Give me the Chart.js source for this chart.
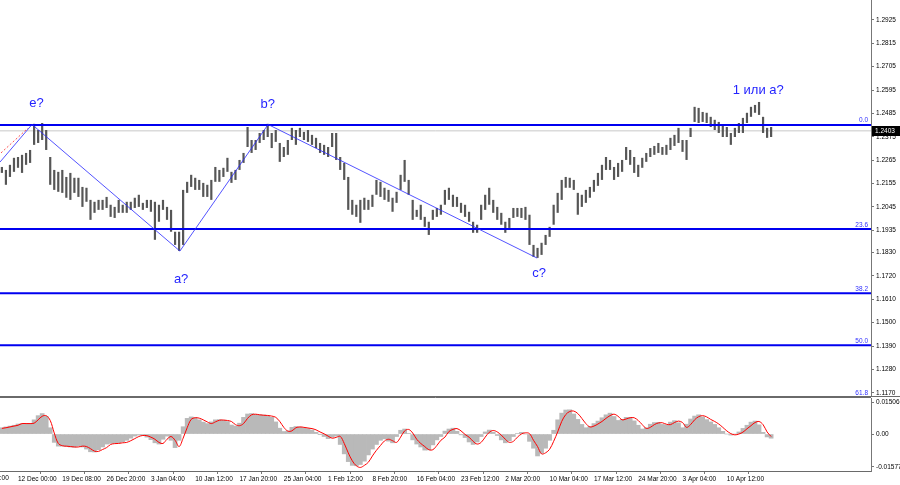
<!DOCTYPE html>
<html lang="ru">
<head>
<meta charset="UTF-8">
<title>GBPUSD H4</title>
<script src="https://cdn.jsdelivr.net/npm/chart.js"></script>
<style>
  html, body { margin: 0; padding: 0; background: #fff; }
  #wrap { position: relative; width: 900px; height: 485px; overflow: hidden; }
  #chartPrice { position: absolute; left: 0; top: 0; }
  #chartOsc { position: absolute; left: 0; top: 397px; }
</style>
</head>
<body>
<div id="wrap">
  <canvas id="chartPrice" width="900" height="397"></canvas>
  <canvas id="chartOsc" width="900" height="88"></canvas>
</div>
<script>
// price bars (high / low), one per bar
const barHigh = [
  1.2233,1.2219,1.2243,1.2276,1.2280,1.2290,1.2299,1.2313,1.2436,1.2407,
  1.2440,1.2407,1.2280,1.2219,1.2210,1.2219,1.2186,1.2205,1.2182,1.2182,
  1.2139,1.2135,1.2078,1.2069,1.2078,1.2078,1.2092,1.2055,1.2045,1.2078,
  1.2055,1.2069,1.2069,1.2088,1.2102,1.2064,1.2078,1.2078,1.2069,1.2055,
  1.2078,1.2045,1.2031,1.1928,1.1928,1.2125,1.2163,1.2196,1.2182,1.2172,
  1.2158,1.2149,1.2172,1.2233,1.2219,1.2229,1.2276,1.2210,1.2219,1.2266,
  1.2299,1.2421,1.2360,1.2360,1.2393,1.2407,1.2436,1.2393,1.2407,1.2346,
  1.2327,1.2360,1.2417,1.2407,1.2417,1.2398,1.2407,1.2384,1.2370,1.2346,
  1.2337,1.2327,1.2393,1.2393,1.2280,1.2252,1.2186,1.2078,1.2055,1.2078,
  1.2088,1.2078,1.2102,1.2172,1.2163,1.2135,1.2125,1.2088,1.2116,1.2196,
  1.2266,1.2172,1.2078,1.2031,1.2055,1.1998,1.1975,1.2031,1.2040,1.2055,
  1.2125,1.2135,1.2102,1.2092,1.2064,1.2055,1.2022,1.1975,1.1961,1.2055,
  1.2102,1.2135,1.2078,1.2045,1.2017,1.1975,1.1993,1.2040,1.2040,1.2040,
  1.2045,1.2008,1.1866,1.1852,1.1876,1.1913,1.1951,1.2055,1.2111,1.2172,
  1.2186,1.2182,1.2172,1.2111,1.2102,1.2125,1.2139,1.2172,1.2205,1.2243,
  1.2280,1.2266,1.2233,1.2252,1.2266,1.2327,1.2313,1.2280,1.2243,1.2276,
  1.2299,1.2322,1.2332,1.2346,1.2327,1.2337,1.2370,1.2384,1.2417,1.2360,
  1.2360,1.2417,1.2516,1.2511,1.2492,1.2488,1.2469,1.2455,1.2445,1.2431,
  1.2421,1.2393,1.2417,1.2440,1.2464,1.2488,1.2516,1.2525,1.2539,1.2469,
  1.2417,1.2421
];
const barLow = [
  1.2205,1.2149,1.2186,1.2210,1.2229,1.2205,1.2243,1.2252,1.2337,1.2346,
  1.2360,1.2313,1.2149,1.2125,1.2116,1.2111,1.2088,1.2078,1.2111,1.2092,
  1.2045,1.2069,1.1984,1.2017,1.2031,1.2031,1.2040,1.1998,1.1993,1.2017,
  1.2017,1.2017,1.2031,1.2040,1.2045,1.2031,1.2040,1.2022,1.1890,1.1975,
  1.2031,1.1984,1.1928,1.1866,1.1838,1.1866,1.2111,1.2139,1.2125,1.2125,
  1.2092,1.2092,1.2078,1.2163,1.2163,1.2186,1.2210,1.2158,1.2172,1.2219,
  1.2252,1.2327,1.2299,1.2313,1.2346,1.2360,1.2374,1.2322,1.2351,1.2257,
  1.2280,1.2290,1.2360,1.2337,1.2374,1.2360,1.2351,1.2337,1.2322,1.2299,
  1.2290,1.2280,1.2327,1.2266,1.2219,1.2172,1.2031,1.2008,1.1998,1.1970,
  1.2031,1.2031,1.2045,1.2102,1.2092,1.2078,1.2069,1.2022,1.2064,1.2125,
  1.2163,1.2102,1.1984,1.1998,1.1984,1.1951,1.1913,1.1984,1.1998,1.2008,
  1.2055,1.2078,1.2045,1.2045,1.2017,1.1998,1.1975,1.1923,1.1923,1.1984,
  1.2031,1.2055,1.2017,1.1984,1.1961,1.1923,1.1946,1.1993,1.1998,1.1993,
  1.1984,1.1866,1.1810,1.1805,1.1819,1.1866,1.1904,1.1961,1.2017,1.2078,
  1.2135,1.2135,1.2125,1.2008,1.2045,1.2064,1.2088,1.2116,1.2144,1.2172,
  1.2219,1.2219,1.2172,1.2186,1.2210,1.2266,1.2243,1.2205,1.2186,1.2229,
  1.2257,1.2280,1.2290,1.2299,1.2290,1.2290,1.2313,1.2332,1.2346,1.2304,
  1.2266,1.2374,1.2445,1.2440,1.2445,1.2440,1.2421,1.2407,1.2393,1.2374,
  1.2374,1.2337,1.2374,1.2393,1.2393,1.2440,1.2469,1.2488,1.2478,1.2393,
  1.2370,1.2374
];

// oscillator: histogram and signal line
const oscMain = [
  0.0030,0.0034,0.0038,0.0042,0.0048,0.0050,0.0050,0.0050,0.0068,0.0088,
  0.0098,0.0085,0.0030,-0.0040,-0.0058,-0.0058,-0.0060,-0.0062,-0.0063,-0.0058,
  -0.0062,-0.0072,-0.0085,-0.0086,-0.0075,-0.0062,-0.0048,-0.0045,-0.0044,-0.0042,
  -0.0038,-0.0030,-0.0020,-0.0010,-0.0005,-0.0006,-0.0015,-0.0027,-0.0042,-0.0048,
  -0.0025,-0.0010,-0.0030,-0.0065,-0.0030,0.0035,0.0075,0.0082,0.0078,0.0068,
  0.0057,0.0050,0.0058,0.0068,0.0069,0.0066,0.0060,0.0043,0.0038,0.0052,
  0.0080,0.0096,0.0098,0.0094,0.0092,0.0091,0.0087,0.0080,0.0058,0.0028,
  0.0012,0.0015,0.0032,0.0036,0.0033,0.0029,0.0026,0.0019,0.0008,-0.0001,
  -0.0012,-0.0022,-0.0015,-0.0010,-0.0050,-0.0095,-0.0132,-0.0150,-0.0152,-0.0146,
  -0.0130,-0.0100,-0.0072,-0.0050,-0.0030,-0.0023,-0.0034,-0.0042,-0.0012,0.0018,
  0.0024,0.0003,-0.0028,-0.0048,-0.0062,-0.0077,-0.0076,-0.0052,-0.0028,-0.0012,
  0.0014,0.0024,0.0028,0.0013,-0.0004,-0.0017,-0.0038,-0.0050,-0.0038,-0.0012,
  0.0010,0.0019,0.0009,-0.0007,-0.0028,-0.0042,-0.0033,-0.0012,0.0002,0.0008,
  0.0000,-0.0035,-0.0068,-0.0105,-0.0092,-0.0068,-0.0030,0.0018,0.0068,0.0100,
  0.0115,0.0116,0.0096,0.0070,0.0046,0.0030,0.0036,0.0050,0.0062,0.0078,
  0.0092,0.0100,0.0084,0.0065,0.0070,0.0080,0.0080,0.0063,0.0042,0.0024,
  0.0030,0.0047,0.0055,0.0056,0.0046,0.0044,0.0057,0.0064,0.0054,0.0030,
  0.0047,0.0072,0.0086,0.0092,0.0082,0.0069,0.0058,0.0046,0.0030,0.0013,
  0.0000,-0.0005,0.0000,0.0010,0.0027,0.0042,0.0057,0.0062,0.0044,0.0008,
  -0.0014,-0.0020
];
const oscSignal = [
  0.0027,0.0030,0.0034,0.0038,0.0042,0.0050,0.0050,0.0050,0.0052,0.0068,
  0.0085,0.0088,0.0065,0.0005,-0.0045,-0.0056,-0.0058,-0.0060,-0.0062,-0.0062,
  -0.0058,-0.0060,-0.0070,-0.0082,-0.0083,-0.0074,-0.0065,-0.0050,-0.0046,-0.0045,
  -0.0042,-0.0040,-0.0032,-0.0022,-0.0012,-0.0007,-0.0008,-0.0015,-0.0025,-0.0040,
  -0.0045,-0.0025,-0.0012,-0.0030,-0.0060,-0.0020,0.0030,0.0070,0.0078,0.0076,
  0.0068,0.0058,0.0050,0.0058,0.0066,0.0067,0.0065,0.0060,0.0045,0.0040,
  0.0050,0.0075,0.0092,0.0095,0.0092,0.0090,0.0089,0.0086,0.0080,0.0060,
  0.0032,0.0014,0.0015,0.0030,0.0034,0.0032,0.0029,0.0026,0.0020,0.0010,
  0.0001,-0.0010,-0.0020,-0.0016,-0.0011,-0.0045,-0.0090,-0.0128,-0.0152,-0.0160,
  -0.0150,-0.0135,-0.0105,-0.0078,-0.0055,-0.0033,-0.0025,-0.0032,-0.0040,-0.0015,
  0.0015,0.0022,0.0005,-0.0025,-0.0045,-0.0060,-0.0075,-0.0075,-0.0055,-0.0030,
  -0.0015,0.0012,0.0022,0.0026,0.0015,-0.0002,-0.0015,-0.0035,-0.0048,-0.0040,
  -0.0015,0.0008,0.0017,0.0010,-0.0005,-0.0025,-0.0040,-0.0035,-0.0015,0.0000,
  0.0006,0.0002,-0.0030,-0.0060,-0.0095,-0.0090,-0.0073,-0.0035,0.0010,0.0060,
  0.0093,0.0108,0.0110,0.0098,0.0075,0.0050,0.0034,0.0038,0.0048,0.0060,
  0.0075,0.0088,0.0095,0.0085,0.0068,0.0072,0.0078,0.0078,0.0065,0.0045,
  0.0027,0.0032,0.0045,0.0053,0.0054,0.0047,0.0045,0.0055,0.0062,0.0055,
  0.0032,0.0045,0.0068,0.0083,0.0088,0.0082,0.0070,0.0060,0.0048,0.0032,
  0.0015,0.0002,-0.0004,0.0000,0.0009,0.0025,0.0040,0.0055,0.0060,0.0045,
  0.0010,-0.0012
];

// axis labels
const priceTicks = [1.2925,1.2815,1.2705,1.2595,1.2485,1.2375,1.2265,1.2155,1.2045,1.1935,
                    1.1830,1.1720,1.1610,1.1500,1.1390,1.1280,1.1170];
const oscTicks = [0.01506, 0, -0.01577];
const dateTickBars = [4,15,26,37,48,59,70,81,92,103,114,125,136,147,158,169,180];
const dateLabels = ['12 Dec 00:00','19 Dec 08:00','26 Dec 20:00','3 Jan 04:00','10 Jan 12:00',
  '17 Jan 20:00','25 Jan 04:00','1 Feb 12:00','8 Feb 20:00','16 Feb 04:00','23 Feb 12:00',
  '2 Mar 20:00','10 Mar 04:00','17 Mar 12:00','24 Mar 20:00','3 Apr 04:00','10 Apr 12:00'];
const prevDateBar = -7;
const prevDateLabel = '2 Dec 16:00';

// fibonacci levels
const fibLevels = [0.0, 23.6, 38.2, 50.0, 61.8];
const fibPrices = [1.2431, 1.1941, 1.1639, 1.1394, 1.1150];
const currentPrice = 1.2403;

// wave marking
const waveBars = [-0.47, 7.48, 44.2, 66.1, 132.9];
const wavePrices = [1.2256, 1.2433, 1.1837, 1.2433, 1.1804];
const trendBars = [-0.22, 6.48];
const trendPrices = [1.2299, 1.2416];
const noteText = ['e?', 'a?', 'b?', 'c?', '1 или а?'];
const noteBars = [8.6, 44.5, 66.0, 133.4, 187.8];
const notePrices = [1.2534, 1.1705, 1.2529, 1.1734, 1.2595];

const X_MIN = -0.47, X_MAX = 215.8;
const FONT = '"Liberation Sans", Arial, sans-serif';
const BLUE = '#0000f0';

// right axis: fixed width, no extra room for end labels
function fixWidth(scale) {
    scale.width = 29;
    scale.paddingTop = 0;
    scale.paddingBottom = 0;
}

// main price chart
const levelSets = fibPrices.map(function (p) {
    return {
        type: 'line', data: [{ x: X_MIN, y: p }, { x: X_MAX, y: p }],
        borderColor: BLUE, borderWidth: 2, pointRadius: 0, order: 1
    };
});

const pricePlugin = {
    id: 'priceExtras',
    afterDatasetsDraw(chart) {
        const c = chart.ctx, a = chart.chartArea;
        const xs = chart.scales.x, ys = chart.scales.y;
        c.save();
        // fib labels
        c.font = '6.5px ' + FONT;
        c.fillStyle = '#3030ff';
        c.textAlign = 'right';
        c.textBaseline = 'bottom';
        fibLevels.forEach(function (lv, k) {
            c.fillText(lv.toFixed(1), a.right - 3, ys.getPixelForValue(fibPrices[k]) - 1);
        });
        // wave notes
        c.font = '13px ' + FONT;
        c.fillStyle = '#2424ff';
        c.textAlign = 'center';
        c.textBaseline = 'middle';
        noteText.forEach(function (t, k) {
            c.fillText(t, xs.getPixelForValue(noteBars[k]), ys.getPixelForValue(notePrices[k]));
        });
        // bottom border
        c.strokeStyle = '#6a6a6a';
        c.lineWidth = 1;
        c.beginPath();
        c.moveTo(a.left, a.bottom - 0.5);
        c.lineTo(chart.width, a.bottom - 0.5);
        c.stroke();
        // current price box
        const py = Math.round(ys.getPixelForValue(currentPrice));
        c.fillStyle = '#000';
        c.fillRect(a.right + 1, py - 5, chart.width - a.right - 1, 10);
        c.fillStyle = '#fff';
        c.font = '6.5px ' + FONT;
        c.textAlign = 'left';
        c.fillText(currentPrice.toFixed(4), a.right + 4, py + 0.5);
        c.restore();
    }
};

const chartPrice = new Chart(document.getElementById('chartPrice'), {
    type: 'bar',
    data: {
        datasets: [
            {
                data: barHigh.map(function (h, i) { return { x: i, y: [barLow[i], h] }; }),
                backgroundColor: '#565656', barThickness: 2.2, inflateAmount: 0, order: 3
            },
            {
                type: 'line', data: [{ x: X_MIN, y: currentPrice }, { x: X_MAX, y: currentPrice }],
                borderColor: '#c8c8c8', borderWidth: 1, pointRadius: 0, order: 4
            },
            ...levelSets,
            {
                type: 'line', data: waveBars.map(function (b, k) { return { x: b, y: wavePrices[k] }; }),
                borderColor: 'rgba(40,40,255,0.8)', borderWidth: 1, pointRadius: 0, order: 0
            },
            {
                type: 'line', data: trendBars.map(function (b, k) { return { x: b, y: trendPrices[k] }; }),
                borderColor: '#ff5050', borderWidth: 1, borderDash: [2, 2], pointRadius: 0, order: 0
            }
        ]
    },
    options: {
        responsive: false,
        animation: false,
        layout: { padding: 0 },
        plugins: { legend: { display: false }, tooltip: { enabled: false } },
        scales: {
            x: { type: 'linear', min: X_MIN, max: X_MAX, offset: false, display: false },
            y: {
                position: 'right', min: 1.1150, max: 1.3019,
                afterFit: fixWidth,
                afterBuildTicks: function (s) { s.ticks = priceTicks.map(function (v) { return { value: v }; }); },
                grid: { drawOnChartArea: false, tickLength: 3, color: '#777' },
                border: { color: '#777' },
                ticks: {
                    autoSkip: false, padding: 2, color: '#000',
                    font: { size: 6.5, family: FONT },
                    callback: function (v) { return v.toFixed(4); }
                }
            }
        }
    },
    plugins: [pricePlugin]
});

// oscillator chart
const oscPlugin = {
    id: 'oscExtras',
    afterDraw(chart) {
        const c = chart.ctx, a = chart.chartArea, xs = chart.scales.x;
        c.save();
        c.strokeStyle = '#6a6a6a';
        c.lineWidth = 1;
        c.beginPath();
        c.moveTo(a.left, a.top - 0.5);
        c.lineTo(a.right, a.top - 0.5);
        c.moveTo(a.left, a.bottom + 0.5);
        c.lineTo(a.right, a.bottom + 0.5);
        c.stroke();
        c.font = '6.5px ' + FONT;
        c.fillStyle = '#000';
        c.textAlign = 'left';
        c.textBaseline = 'top';
        c.fillText(prevDateLabel, xs.getPixelForValue(prevDateBar), a.bottom + 4);
        c.restore();
    }
};

const chartOsc = new Chart(document.getElementById('chartOsc'), {
    type: 'bar',
    data: {
        datasets: [
            {
                type: 'line', data: oscSignal.map(function (v, i) { return { x: i, y: v }; }),
                borderColor: '#ff0000', borderWidth: 1, pointRadius: 0, tension: 0.35, order: 0
            },
            {
                data: oscMain.map(function (v, i) { return { x: i, y: v }; }),
                backgroundColor: '#b9b9b9', barPercentage: 1, categoryPercentage: 1, order: 1
            }
        ]
    },
    options: {
        responsive: false,
        animation: false,
        layout: { padding: { top: 1 } },
        plugins: { legend: { display: false }, tooltip: { enabled: false } },
        scales: {
            x: {
                type: 'linear', min: X_MIN, max: X_MAX, offset: false,
                afterFit: function (s) { s.height = 14; s.paddingLeft = 0; s.paddingRight = 0; },
                afterBuildTicks: function (s) { s.ticks = dateTickBars.map(function (v) { return { value: v }; }); },
                grid: { drawOnChartArea: false, tickLength: 3, color: '#777' },
                border: { display: false },
                ticks: {
                    autoSkip: false, maxRotation: 0, align: 'start', padding: 1, color: '#000',
                    font: { size: 6.5, family: FONT },
                    callback: function (v) { return dateLabels[dateTickBars.indexOf(v)]; }
                }
            },
            y: {
                position: 'right', min: -0.0177, max: 0.01725,
                afterFit: fixWidth,
                afterBuildTicks: function (s) { s.ticks = oscTicks.map(function (v) { return { value: v }; }); },
                grid: { drawOnChartArea: false, tickLength: 3, color: '#777' },
                border: { color: '#777' },
                ticks: {
                    autoSkip: false, padding: 2, color: '#000',
                    font: { size: 6.5, family: FONT },
                    callback: function (v) { return v === 0 ? '0.00' : String(v); }
                }
            }
        }
    },
    plugins: [oscPlugin]
});
</script>
</body>
</html>
